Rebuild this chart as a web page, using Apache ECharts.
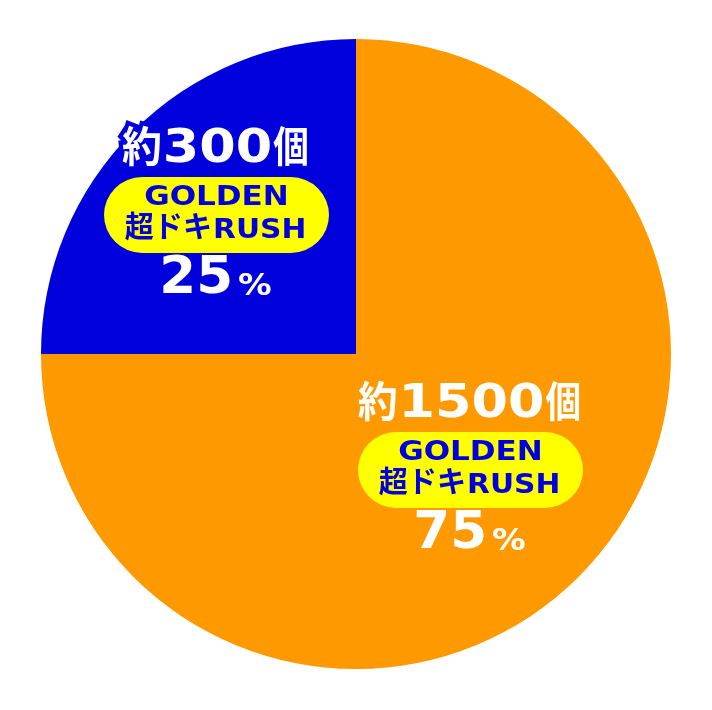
<!DOCTYPE html>
<html>
<head>
<meta charset="utf-8">
<script src="https://cdn.jsdelivr.net/npm/echarts@6/dist/echarts.min.js"></script>
<style>html,body{margin:0;padding:0;background:#fff;}#main{width:712px;height:710px;}</style>
</head>
<body>
<div id="main"></div>
<script>
// ---- data ----
const categories = ['約1500個', '約300個'];
const countPrefix = '約';
const counts = ['1500', '300'];
const countSuffix = '個';
const percents = [75, 25];
const badgeWord = 'GOLDEN';
const badgeKana = '超ドキ';
const badgeLatin = 'RUSH';

// ---- styles / layout ----
const sliceColors = ['#FF9900', '#0000DD'];
const badgeTextColor = '#0000DD';
const labelCenters = [[470.5, 470], [216.5, 215]];
const FONT = '"DejaVu Sans", "Noto Sans CJK JP", sans-serif';
const MID = 0.346; // canvas 'middle' offset above baseline (em)

const ctx = document.createElement('canvas').getContext('2d');
function measure(text, size) {
  ctx.font = 'bold ' + size + 'px ' + FONT;
  return ctx.measureText(text).width;
}

function seg(x, baseline, text, size, fill, scaleX, stroke, lw) {
  return {
    type: 'text', x: x, y: baseline - MID * size, scaleX: scaleX, silent: true, z: 100,
    style: {
      text: text, fill: fill, fontSize: size, fontWeight: 'bold', fontFamily: FONT,
      align: 'left', verticalAlign: 'middle',
      stroke: stroke || null, lineWidth: lw || 0
    }
  };
}

// parts: [{t, size, sx, gap}]
function line(out, cx, baseline, parts, fill, stroke, lw) {
  let total = 0;
  parts.forEach(function (p) { p.w = measure(p.t, p.size) * p.sx; total += p.w + (p.gap || 0); });
  let x = cx - total / 2;
  const xs = [];
  parts.forEach(function (p) { x += (p.gap || 0); xs.push(x); x += p.w; });
  if (stroke) {
    parts.forEach(function (p, k) { out.push(seg(xs[k], baseline, p.t, p.size, stroke, p.sx, stroke, lw)); });
  }
  parts.forEach(function (p, k) { out.push(seg(xs[k], baseline, p.t, p.size, fill, p.sx)); });
}

const graphics = [];
categories.forEach(function (name, i) {
  const cx = labelCenters[i][0], cy = labelCenters[i][1];
  const col = sliceColors[i];
  line(graphics, cx - 1, cy - 49.5, [
    {t: countPrefix, size: 42, sx: 0.95},
    {t: counts[i], size: 46, sx: 1.14, gap: 1},
    {t: countSuffix, size: 42, sx: 0.85, gap: 1}
  ], '#FFFFFF', col, 9);
  graphics.push({
    type: 'rect', silent: true, z: 100,
    shape: {x: cx - 112.5, y: cy - 38, width: 225, height: 76, r: 38},
    style: {fill: '#FFFF00'}
  });
  line(graphics, cx, cy - 7.5, [{t: badgeWord, size: 27, sx: 1.15}], badgeTextColor);
  line(graphics, cx - 1, cy + 25, [
    {t: badgeKana, size: 30, sx: 0.97},
    {t: badgeLatin, size: 27, sx: 1.1, gap: 1}
  ], badgeTextColor);
  line(graphics, cx - 1, cy + 82.5, [
    {t: String(percents[i]), size: 51, sx: 1.04},
    {t: '%', size: 30, sx: 1.12, gap: 5}
  ], '#FFFFFF');
});

const chart = echarts.init(document.getElementById('main'), null, {renderer: 'canvas'});
chart.setOption({
  animation: false,
  backgroundColor: '#FFFFFF',
  series: [{
    type: 'pie',
    center: [356, 354],
    radius: 315,
    startAngle: 90,
    clockwise: true,
    silent: true,
    z: 1,
    label: {show: false},
    labelLine: {show: false},
    itemStyle: {borderWidth: 0},
    emphasis: {disabled: true},
    data: percents.map(function (v, i) {
      return {value: v, name: categories[i], itemStyle: {color: sliceColors[i]}};
    })
  }],
  graphic: {elements: graphics}
});
</script>
</body>
</html>
